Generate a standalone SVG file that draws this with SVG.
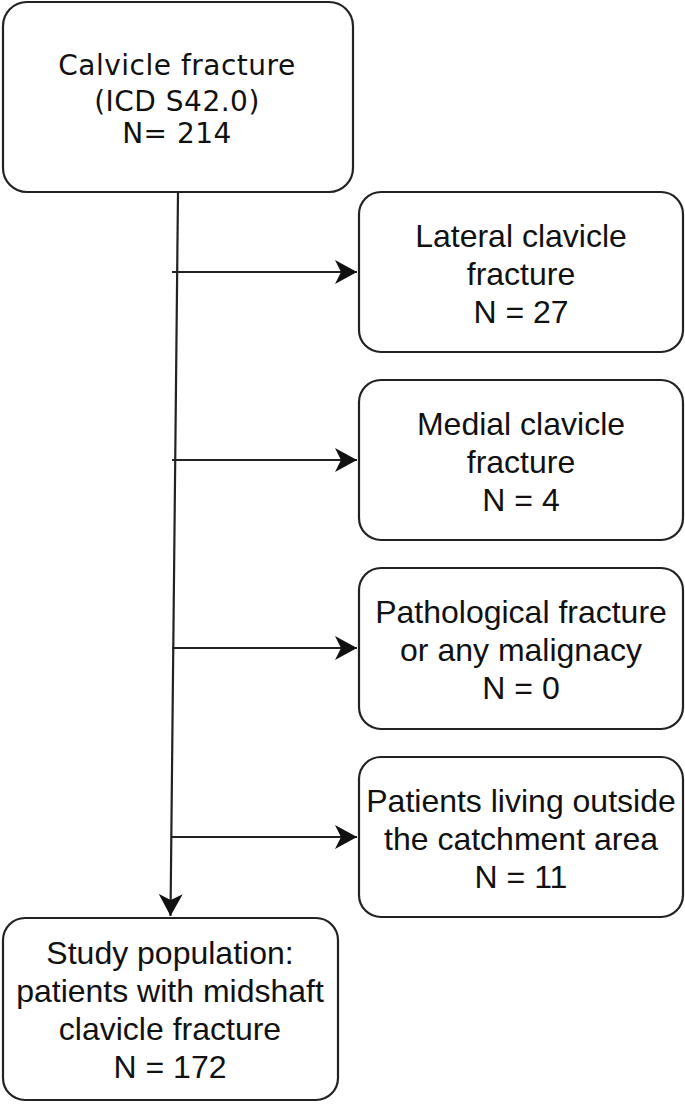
<svg xmlns="http://www.w3.org/2000/svg" width="685" height="1104" viewBox="0 0 685 1104">
<style>
.box{fill:#fff;stroke:#222;stroke-width:2.2}
.t{font-family:"Liberation Sans",Arial,sans-serif;font-size:32px;fill:#111;text-anchor:middle}
.tv{font-family:"DejaVu Sans",Verdana,sans-serif;font-size:28px;letter-spacing:0.5px;fill:#111;text-anchor:middle}
.ln{stroke:#222;stroke-width:2.2;fill:none}
</style>
<defs>
<marker id="ah" markerUnits="userSpaceOnUse" markerWidth="24" markerHeight="26" refX="22" refY="12" orient="auto">
<path d="M0,0 L22,12 L0,24 L6,12 Z" fill="#111"/>
</marker>
</defs>
<rect width="685" height="1104" fill="#fff"/>
<g id="connectors">
<line class="ln" x1="178" y1="192" x2="170.5" y2="916" marker-end="url(#ah)"/>
<line class="ln" x1="172" y1="272" x2="357" y2="272" marker-end="url(#ah)"/>
<line class="ln" x1="172" y1="460" x2="357" y2="460" marker-end="url(#ah)"/>
<line class="ln" x1="172" y1="648" x2="357" y2="648" marker-end="url(#ah)"/>
<line class="ln" x1="172" y1="837" x2="357" y2="837" marker-end="url(#ah)"/>
</g>
<g id="n-top">
<rect class="box" x="3" y="2" width="350" height="190" rx="24"/>
<text class="tv" x="177" y="75">Calvicle fracture</text>
<text class="tv" x="177" y="111">(ICD S42.0)</text>
<text class="tv" x="177" y="143">N= 214</text>
</g>
<g id="n-lateral">
<rect class="box" x="359" y="192" width="324" height="160" rx="22"/>
<text class="t" x="521" y="247">Lateral clavicle</text>
<text class="t" x="521" y="285">fracture</text>
<text class="t" x="521" y="323">N = 27</text>
</g>
<g id="n-medial">
<rect class="box" x="359" y="380" width="324" height="160" rx="22"/>
<text class="t" x="521" y="435">Medial clavicle</text>
<text class="t" x="521" y="473">fracture</text>
<text class="t" x="521" y="511">N = 4</text>
</g>
<g id="n-patho">
<rect class="box" x="359" y="568" width="324" height="161" rx="22"/>
<text class="t" x="521" y="623">Pathological fracture</text>
<text class="t" x="521" y="661">or any malignacy</text>
<text class="t" x="521" y="699">N = 0</text>
</g>
<g id="n-outside">
<rect class="box" x="359" y="757" width="324" height="160" rx="22"/>
<text class="t" x="521" y="812">Patients living outside</text>
<text class="t" x="521" y="850">the catchment area</text>
<text class="t" x="521" y="888">N = 11</text>
</g>
<g id="n-study">
<rect class="box" x="3" y="918" width="335" height="182" rx="22"/>
<text class="t" x="170" y="964">Study population:</text>
<text class="t" x="170" y="1002">patients with midshaft</text>
<text class="t" x="170" y="1040">clavicle fracture</text>
<text class="t" x="170" y="1078">N = 172</text>
</g>
</svg>
